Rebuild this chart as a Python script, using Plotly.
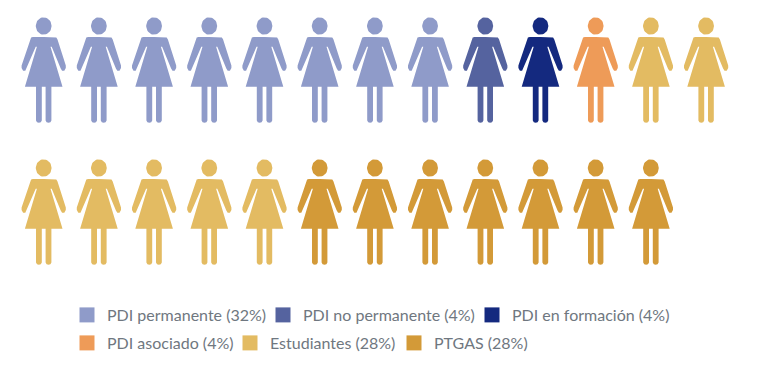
import numpy as np
import plotly.graph_objects as go

# Data: share of each group, one pictogram figure = 4 %
categories = ["PDI permanente", "PDI no permanente", "PDI en formación",
              "PDI asociado", "Estudiantes", "PTGAS"]
percentages = [32, 4, 4, 4, 28, 28]
colors = ["#8F9BC9", "#55639F", "#14297F", "#EE9B58", "#E3BB62", "#D39A38"]
per_figure = 4
per_row = 13

W, H = 761, 380
# Pictogram layout, in pixels of the canvas
X0, DX = 43.7, 55.2
Y0, DY = 26.0, 142.0
HEAD_RX, HEAD_RY = 7.9, 8.7
# Legend entry placement (left edge of each label, row centre), in pixels
legend_text_x = [107, 303, 512, 107, 270, 434]
legend_row_y = [315, 315, 315, 343, 343, 343]
LEGEND_TEXT_OFFSET = 40

half = [(0, 10.9), (10.8, 10.9), (12.6, 11.6), (13.8, 13.4), (22.1, 39.5), (22.1, 42), (20.6, 44.8),
        (18.4, 44.8), (17, 42.4), (8.0, 20.8), (6.8, 20.8), (18.8, 60.7), (7.7, 60.7),
        (7.7, 94.4), (6.7, 96.2), (4.8, 96.8), (2.9, 96.2), (1.9, 94.4), (1.9, 60.7), (0, 60.7)]
body_x = np.array([p[0] for p in half] + [-p[0] for p in reversed(half)])
body_y = np.array([p[1] for p in half] + [p[1] for p in reversed(half)])
t = np.linspace(0, 2 * np.pi, 40)
head_x, head_y = HEAD_RX * np.cos(t), HEAD_RY * np.sin(t)


def figure_path(i):
    cx = X0 + DX * (i % per_row)
    cy = Y0 + DY * (i // per_row)
    xs = list(cx + body_x) + [None] + list(cx + head_x) + [None]
    ys = list(cy + body_y) + [None] + list(cy + head_y) + [None]
    return xs, ys


fig = go.Figure()
legends = {}
start = 0
for k, (name, pct, col) in enumerate(zip(categories, percentages, colors)):
    n = pct // per_figure
    xs, ys = [], []
    for i in range(start, start + n):
        a, b = figure_path(i)
        xs += a
        ys += b
    start += n
    legend_id = "legend" if k == 0 else f"legend{k + 1}"
    fig.add_trace(go.Scatter(x=xs, y=ys, mode="lines", fill="toself", fillcolor=col,
                             line=dict(color=col, width=0), showlegend=False,
                             hoverinfo="name", name=f"{name} ({pct}%)",
                             legendgroup=name, legend=legend_id))
    fig.add_trace(go.Scatter(x=[None], y=[None], mode="markers", name=f"{name} ({pct}%)",
                             marker=dict(symbol="square", size=15, color=col),
                             legendgroup=name, legend=legend_id))
    legends[legend_id] = dict(
        orientation="h",
        x=(legend_text_x[k] - LEGEND_TEXT_OFFSET) / W,
        y=1 - legend_row_y[k] / H,
        xanchor="left", yanchor="middle",
        font=dict(family="Lato", size=16, color="#6F7780"),
        itemclick=False, itemdoubleclick=False,
        bgcolor="rgba(0,0,0,0)",
    )

fig.update_layout(
    width=W, height=H,
    margin=dict(l=0, r=0, t=0, b=0),
    paper_bgcolor="white", plot_bgcolor="white",
    xaxis=dict(range=[0, W], visible=False, fixedrange=True),
    yaxis=dict(range=[H, 0], visible=False, fixedrange=True),
    **legends,
)
fig.write_html("out.html", config={"displayModeBar": False},
               post_script="document.body.style.margin='0';")
